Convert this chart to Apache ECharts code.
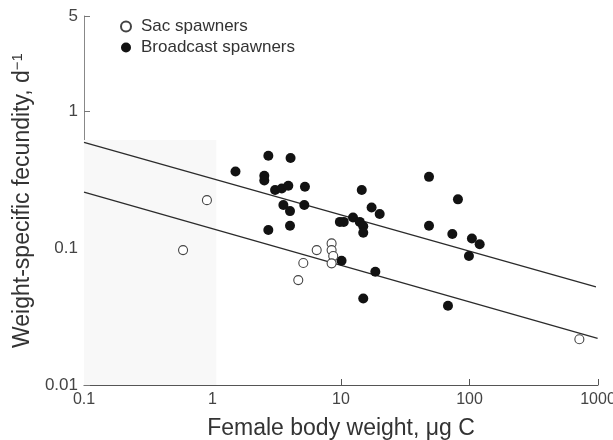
<!DOCTYPE html>
<html>
<head>
    <meta http-equiv="Content-Type" content="text/html; charset=utf-8">
    <title>Weight-specific fecundity vs female body weight</title>
    <script src="https://cdn.jsdelivr.net/npm/echarts@6/dist/echarts.min.js"></script>
    <style>html, body { margin: 0; background: #fff; }</style>
</head>
<body>
    <div id="chart" style="width: 613px; height: 440px;"></div>
    <script type="text/javascript">
        // [body weight (ug C), fecundity (d-1)]
        var sacSpawners = [
            [0.59, 0.097], [0.905, 0.225], [4.65, 0.0585], [5.09, 0.078],
            [6.47, 0.097], [8.45, 0.1086], [8.45, 0.097], [8.7, 0.0877],
            [8.45, 0.0776], [716, 0.0216]
        ];
        var broadcastSpawners = [
            [1.51, 0.364], [2.72, 0.475], [4.05, 0.457], [2.53, 0.339], [2.53, 0.313],
            [3.07, 0.267], [3.46, 0.274], [3.89, 0.287], [5.24, 0.282], [3.56, 0.207],
            [4.01, 0.187], [5.18, 0.207], [2.72, 0.136], [4.01, 0.146], [14.5, 0.267],
            [48.4, 0.333], [81.3, 0.228], [17.3, 0.199], [20.0, 0.178], [9.8, 0.156],
            [10.5, 0.156], [12.4, 0.168], [14.0, 0.156], [14.9, 0.145], [14.9, 0.130],
            [48.4, 0.146], [73.5, 0.127], [104.4, 0.118], [120, 0.107], [99, 0.0877],
            [10.1, 0.081], [18.5, 0.0673], [14.9, 0.0429], [68, 0.038]
        ];
        // fitted regression lines, end points
        var sacFit = [[0.1, 0.257], [993, 0.0219]];
        var broadcastFit = [[0.1, 0.595], [964, 0.0522]];

        var font = "'Liberation Sans', Arial, sans-serif";
        function fmt(v) { return String(parseFloat(Number(v).toPrecision(6))); }

        var chart = echarts.init(document.getElementById('chart'));
        var option = {
            animation: false,
            textStyle: { fontFamily: font },
            grid: { left: 84, right: 15, top: 16, bottom: 55, containLabel: false, outerBoundsMode: 'none' },
            legend: {
                orient: 'vertical',
                left: 115,
                top: 13,
                itemWidth: 10,
                itemHeight: 10,
                itemGap: 4,
                textStyle: { fontSize: 17, color: '#333', fontFamily: font, padding: [0, 0, 0, 5] },
                data: ['Sac spawners', 'Broadcast spawners']
            },
            xAxis: {
                type: 'log',
                min: 0.1,
                max: 1000,
                name: 'Female body weight, μg C',
                nameLocation: 'middle',
                nameGap: 32,
                nameTextStyle: { fontSize: 23, color: '#333', fontFamily: font },
                axisLine: { lineStyle: { color: '#555', width: 1 } },
                axisTick: { inside: true, length: 6, lineStyle: { color: '#555' } },
                axisLabel: { fontSize: 16, color: '#444', margin: 7, formatter: fmt },
                splitLine: { show: false }
            },
            yAxis: {
                type: 'log',
                min: 0.01,
                max: 5,
                name: 'Weight-specific fecundity, d{sup|−1}',
                nameLocation: 'middle',
                nameGap: 48,
                nameTextStyle: {
                    fontSize: 23, color: '#333', fontFamily: font,
                    rich: { sup: { fontSize: 15, color: '#333', verticalAlign: 'top', padding: [0, 0, 10, 0] } }
                },
                axisLine: { lineStyle: { color: '#888', width: 1 } },
                axisTick: { inside: true, length: 6, lineStyle: { color: '#777' } },
                axisLabel: { fontSize: 17, color: '#444', margin: 6, formatter: fmt },
                splitLine: { show: false }
            },
            series: [
                {
                    name: 'Sac fit',
                    type: 'line',
                    data: sacFit,
                    symbol: 'none',
                    silent: true,
                    lineStyle: { color: '#2b2b2b', width: 1.3 },
                    markArea: {
                        silent: true,
                        itemStyle: { color: '#f8f8f8' },
                        data: [[{ coord: [0.1, 0.01] }, { coord: [1.07, 0.62] }]]
                    },
                    z: 1
                },
                {
                    name: 'Broadcast fit',
                    type: 'line',
                    data: broadcastFit,
                    symbol: 'none',
                    silent: true,
                    lineStyle: { color: '#2b2b2b', width: 1.3 },
                    z: 1
                },
                {
                    name: 'Sac spawners',
                    type: 'scatter',
                    data: sacSpawners,
                    symbol: 'circle',
                    symbolSize: 9,
                    itemStyle: { color: '#fff', borderColor: '#444', borderWidth: 1.1, opacity: 1 },
                    z: 3
                },
                {
                    name: 'Broadcast spawners',
                    type: 'scatter',
                    data: broadcastSpawners,
                    symbol: 'circle',
                    symbolSize: 10,
                    itemStyle: { color: '#121212', opacity: 1 },
                    z: 2
                }
            ]
        };
        chart.setOption(option);
    </script>
</body>
</html>
